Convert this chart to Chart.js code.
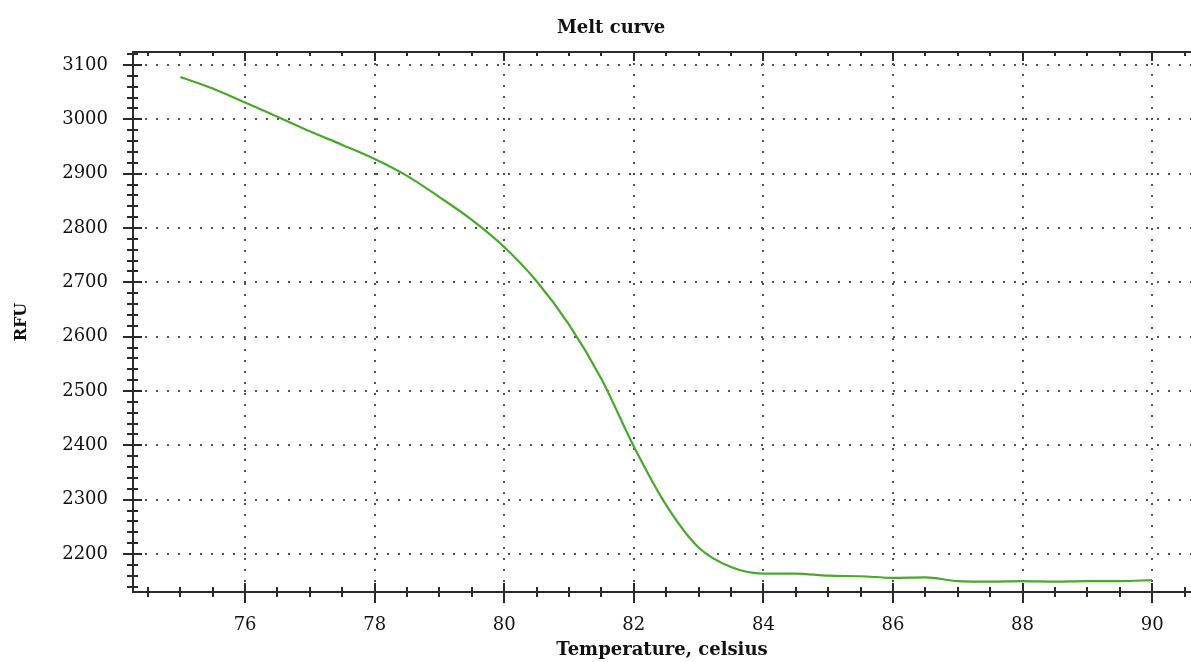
<!DOCTYPE html>
<html><head><meta charset="utf-8">
<script src="https://cdn.jsdelivr.net/npm/chart.js@4/dist/chart.umd.min.js"></script>
<style>
html,body{margin:0;padding:0;background:#fff;}
#wrap{position:relative;width:1191px;height:662px;}
#ttl{position:absolute;top:16px;left:0;width:1222px;text-align:center;font:bold 18px "DejaVu Serif",serif;color:#111;}
</style></head><body>
<div id="wrap"><div id="ttl">Melt curve</div><canvas id="c" width="1191" height="662"></canvas></div>
<script>
/* Melt curve — RFU vs temperature */
const TEMP = [75.0,75.5,76.0,76.5,77.0,77.5,78.0,78.5,79.0,79.5,80.0,80.5,81.0,81.5,82.0,82.5,83.0,83.5,84.0,84.5,85.0,85.5,86.0,86.5,87.0,87.5,88.0,88.5,89.0,89.5,90.0];
const RFU  = [3078,3057,3031,3005,2978,2953,2927,2896,2857,2815,2765,2702,2622,2522,2398,2290,2212,2176,2164,2164,2160,2159,2156,2157,2150,2149,2150,2149,2150,2150,2152];
const X_TICKS = [76,78,80,82,84,86,88,90];
const Y_TICKS = [2200,2300,2400,2500,2600,2700,2800,2900,3000,3100];
const X_RANGE = [74.27, 90.6], Y_RANGE = [2130, 3124];
const X_MINOR = 0.5, Y_MINOR = 20;

const INK = "#2b2b2b", DOTS = "#555", GREEN = "#4aa82a";
const SERIF = '"DejaVu Serif", serif';

const axisMarks = {
  id: "axisMarks",
  afterDraw(chart){
    const {ctx, chartArea:a, scales:{x, y}} = chart;
    ctx.save(); ctx.strokeStyle = INK; ctx.lineWidth = 2;
    ctx.beginPath(); ctx.moveTo(a.left, a.top); ctx.lineTo(a.right, a.top); ctx.stroke();
    ctx.beginPath();
    const seg = (x1,y1,x2,y2) => { ctx.moveTo(x1,y1); ctx.lineTo(x2,y2); };
    for (let i = 0; ; i++){
      const v = Math.ceil(x.min / X_MINOR) * X_MINOR + i * X_MINOR;
      if (v > x.max) break;
      const px = Math.round(x.getPixelForValue(v)), major = X_TICKS.includes(v);
      seg(px, a.bottom - (major ? 9 : 5), px, a.bottom + (major ? 11 : 5));
      seg(px, a.top, px, a.top + (major ? 9 : 4));
    }
    for (let i = 0; ; i++){
      const v = Math.ceil(y.min / Y_MINOR) * Y_MINOR + i * Y_MINOR;
      if (v > y.max) break;
      const py = Math.round(y.getPixelForValue(v)), major = Y_TICKS.includes(v);
      seg(a.left - (major ? 10 : 6), py, a.left + (major ? 9 : 5), py);
    }
    ctx.stroke(); ctx.restore();
  }
};

const gridOpts = { color: DOTS, lineWidth: 2, drawTicks: false };
const borderOpts = { display: true, color: INK, width: 2, dash: [2, 9] };
const tickFont = { family: SERIF, size: 18 };

new Chart(document.getElementById("c"), {
  type: "line",
  data: { datasets: [{ data: TEMP.map((t, i) => ({ x: t, y: RFU[i] })),
    borderColor: GREEN, borderWidth: 2.2, pointRadius: 0, fill: false, cubicInterpolationMode: "monotone" }] },
  options: {
    responsive: false, animation: false, devicePixelRatio: 1,
    layout: { padding: { top: 52, right: 0, bottom: 0, left: 0 } },
    plugins: { legend: { display: false }, tooltip: { enabled: false } },
    scales: {
      x: { type: "linear", min: X_RANGE[0], max: X_RANGE[1],
        afterBuildTicks: s => { s.ticks = X_TICKS.map(v => ({ value: v })); },
        afterFit: s => { s.height = 70; },
        grid: gridOpts, border: borderOpts,
        ticks: { padding: 23, color: "#111", font: tickFont, callback: v => String(v) },
        title: { display: true, text: "Temperature, celsius", color: "#111",
          font: { family: SERIF, size: 18, weight: "bold" }, padding: { top: 0, bottom: 1 } } },
      y: { min: Y_RANGE[0], max: Y_RANGE[1],
        afterBuildTicks: s => { s.ticks = Y_TICKS.map(v => ({ value: v })); },
        afterFit: s => { s.width = 133; },
        grid: gridOpts, border: borderOpts,
        ticks: { padding: 25, color: "#111", font: tickFont, callback: v => String(v) },
        title: { display: true, text: "RFU", color: "#111",
          font: { family: SERIF, size: 16, weight: "bold" }, padding: { top: 12, bottom: 0 } } }
    }
  },
  plugins: [axisMarks]
});
</script>
</body></html>
